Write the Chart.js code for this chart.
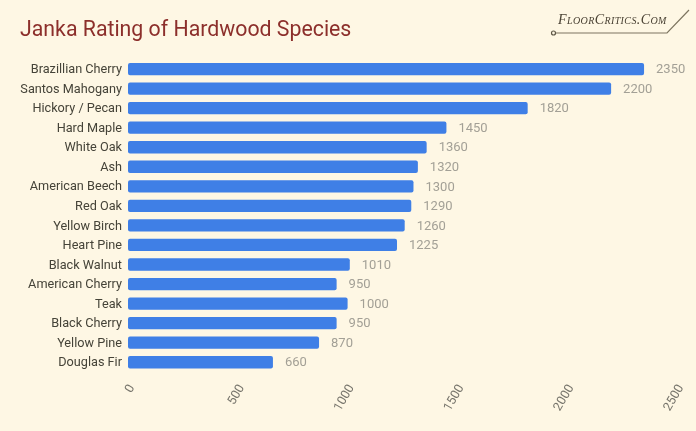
<!DOCTYPE html>
<html>
<head>
<meta charset="utf-8">
<title>Janka Rating of Hardwood Species</title>
<script src="https://cdn.jsdelivr.net/npm/chart.js@4/dist/chart.umd.min.js"></script>
<style>
  html, body { margin: 0; padding: 0; background: #fef7e4; }
  #wrap { position: relative; width: 696px; height: 431px; overflow: hidden; }
  #brand { position: absolute; left: 558px; top: 12px; font: italic small-caps 14px "Liberation Serif", serif; letter-spacing: 0.4px; color: #4a4234; white-space: nowrap; }
  #brandLine { position: absolute; left: 0; top: 0; }
</style>
</head>
<body>
<div id="wrap">
  <canvas id="jankaChart" width="696" height="431"></canvas>
  <div id="brand">FloorCritics.Com</div>
  <svg id="brandLine" width="696" height="431">
    <polyline points="556,33 667,33 689,10" fill="none" stroke="#7d7560" stroke-width="1.2"/>
    <circle cx="553.5" cy="33" r="2" fill="none" stroke="#5f5847" stroke-width="1.2"/>
  </svg>
</div>
<script>
// ==== Data ====
const species = ['Brazillian Cherry', 'Santos Mahogany', 'Hickory / Pecan', 'Hard Maple', 'White Oak', 'Ash',
    'American Beech', 'Red Oak', 'Yellow Birch', 'Heart Pine', 'Black Walnut', 'American Cherry', 'Teak',
    'Black Cherry', 'Yellow Pine', 'Douglas Fir'];
const ratings = [2350, 2200, 1820, 1450, 1360, 1320, 1300, 1290, 1260, 1225, 1010, 950, 1000, 950, 870, 660];
const axisMax = 2500;
const axisStep = 500;

// ==== Value label next to each bar ====
const valueLabels = {
    id: 'valueLabels',
    afterDatasetsDraw(chart) {
        const { ctx } = chart;
        ctx.save();
        ctx.font = '13px Roboto';
        ctx.fillStyle = '#a3a096';
        ctx.textAlign = 'left';
        ctx.textBaseline = 'middle';
        chart.getDatasetMeta(0).data.forEach((bar, i) => {
            ctx.fillText(ratings[i], bar.x + 12, bar.y + 1);
        });
        ctx.restore();
    }
};

new Chart(document.getElementById('jankaChart'), {
    type: 'bar',
    data: {
        labels: species,
        datasets: [{
            data: ratings,
            backgroundColor: '#3f7fe6',
            borderRadius: 2,
            borderSkipped: false,
            barPercentage: 0.63,
            categoryPercentage: 1
        }]
    },
    options: {
        indexAxis: 'y',
        responsive: false,
        animation: false,
        layout: { padding: { left: 20, right: 19, top: 0, bottom: 0 } },
        plugins: {
            legend: { display: false },
            tooltip: { enabled: false },
            title: {
                display: true,
                text: 'Janka Rating of Hardwood Species',
                align: 'start',
                color: '#8c2f2b',
                font: { family: 'Roboto', size: 21.3, weight: '400' },
                padding: { top: 18, bottom: 15.7 }
            }
        },
        scales: {
            x: {
                min: 0,
                max: axisMax,
                grid: { display: false, drawTicks: false },
                border: { display: false },
                afterFit: scale => {
                    scale.height = 59;
                    scale.paddingLeft = 0;
                    scale.paddingRight = 0;
                },
                ticks: {
                    stepSize: axisStep,
                    minRotation: 60,
                    maxRotation: 60,
                    labelOffset: 4,
                    padding: 10,
                    color: '#77756c',
                    font: { family: 'Roboto', size: 12.5 },
                    callback: value => String(value)
                }
            },
            y: {
                grid: { display: false, drawTicks: false },
                border: { display: false },
                afterFit: scale => { scale.width = 108; },
                ticks: {
                    autoSkip: false,
                    padding: 6,
                    labelOffset: 1,
                    color: '#454338',
                    font: { family: 'Roboto', size: 12.7 }
                }
            }
        }
    },
    plugins: [valueLabels]
});
</script>
</body>
</html>
